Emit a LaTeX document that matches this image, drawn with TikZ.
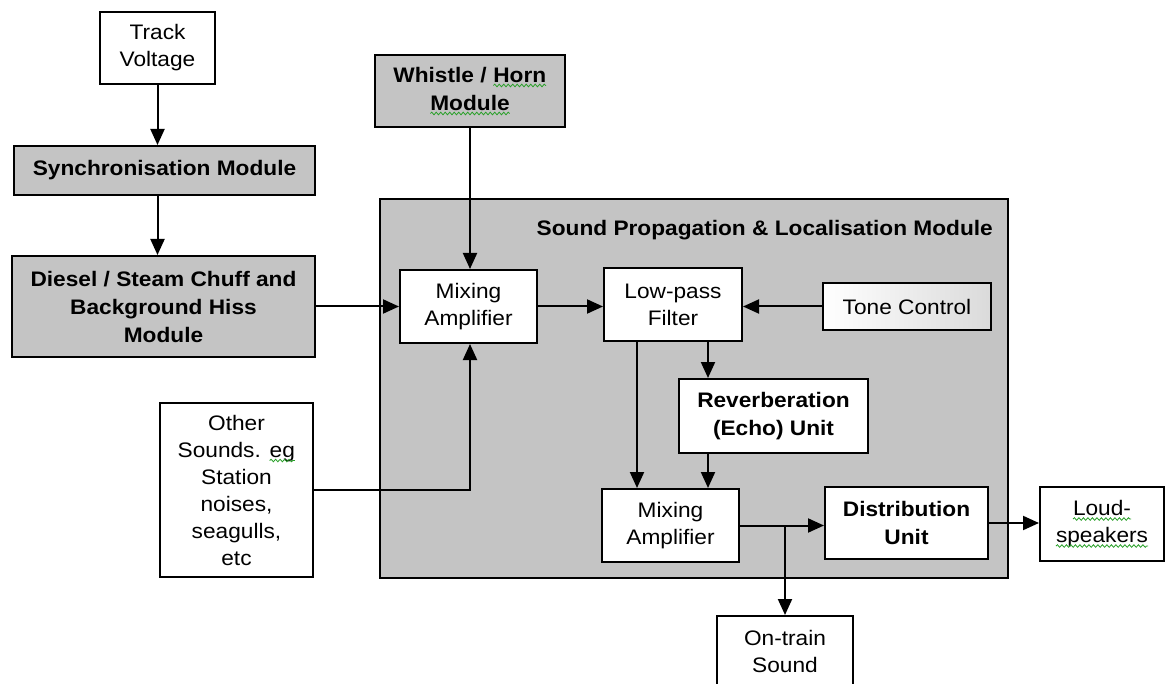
\documentclass[tikz,border=0pt]{standalone}
\usepackage{fontspec}
\setmainfont{Liberation Sans}[FakeStretch=1.08]
\usetikzlibrary{arrows.meta,calc,decorations.pathmorphing}
\definecolor{modgray}{RGB}{196,196,196}
\definecolor{tonegray}{RGB}{200,200,200}
\definecolor{sqgreen}{RGB}{40,160,40}
\pgfdeclarehorizontalshading{toneshade}{100bp}{color(0bp)=(white); color(25bp)=(white); color(100bp)=(tonegray)}
\newcommand\sq[1]{\tikz[x=1pt,y=1pt,baseline=(w.base)]{\node[inner sep=0pt,outer sep=0pt,draw=none,fill=none,minimum width=0pt,minimum height=0pt] (w) {#1};\draw[sqgreen,line width=0.8pt,decorate,decoration={snake,amplitude=1.3pt,segment length=4.5pt}] ($(w.base west)+(0,-3.5)$) -- ($(w.base east)+(0,-3.5)$);}}
\begin{document}
\begin{tikzpicture}[x=1pt,y=-1pt,
  txt/.style={font=\fontsize{21}{27}\selectfont, align=center, inner sep=0pt},
  box/.style={txt, draw=black, line width=2pt, fill=white},
  gbox/.style={box, fill=modgray, font=\fontsize{21}{28}\selectfont\bfseries},
  bbox/.style={box, font=\fontsize{21}{28}\selectfont\bfseries},
  conn/.style={line width=2pt},
  arr/.style={conn, -{Triangle[length=16pt,width=14pt]}}
]
\useasboundingbox (0,0) rectangle (1166,684);
% big module
\node[draw=black, line width=2pt, fill=modgray, minimum width=628, minimum height=379, inner sep=0pt] (big) at (694,388.5) {};
\node[txt, font=\fontsize{21}{27}\selectfont\bfseries, anchor=base east] (title) at (993,236) {Sound Propagation \& Localisation Module};
% outer boxes
\node[box, minimum width=115, minimum height=72] (track) at (157.5,48) {Track\\Voltage};
\node[gbox, minimum width=301, minimum height=49] (sync) at (164.5,170.5) {Synchronisation Module};
\node[gbox, minimum width=303, minimum height=101] (diesel) at (163.5,306.5) {Diesel / Steam Chuff and\\Background Hiss\\Module};
\node[gbox, minimum width=190, minimum height=72] (whistle) at (470,91) {Whistle / \sq{Horn}\\\sq{Module}};
\node[box, minimum width=153, minimum height=174] (other) at (236.5,490) {Other\\Sounds. \sq{eg}\\Station\\noises,\\seagulls,\\etc};
\node[box, minimum width=124, minimum height=74] (loud) at (1102,524) {\sq{Loud-}\\\sq{speakers}};
\node[box, minimum width=136, minimum height=70] (ontrain) at (785,651) {On-train\\Sound};
% inner boxes
\node[box, minimum width=137, minimum height=73] (ma1) at (468.5,306.5) {Mixing\\Amplifier};
\node[box, minimum width=138, minimum height=73] (lpf) at (673,304.5) {Low-pass\\Filter};
\node[box, shading=toneshade, minimum width=168, minimum height=47] (tone) at (907,306.5) {Tone Control};
\node[bbox, minimum width=189, minimum height=74] (reverb) at (773.5,416) {Reverberation\\(Echo) Unit};
\node[box, minimum width=137, minimum height=73] (ma2) at (670.5,525.5) {Mixing\\Amplifier};
\node[bbox, minimum width=163, minimum height=72] (dist) at (906.5,523) {Distribution\\Unit};
% connectors
\draw[arr] (track.south) -- (track.south |- sync.north);
\draw[arr] (sync.south -| track.south) -- (diesel.north -| track.south);
\draw[arr] (diesel.east) -- (ma1.west);
\draw[arr] (whistle.south) -- (whistle.south |- ma1.north);
\draw[arr] (other.east) -| (whistle.south |- ma1.south);
\draw[arr] (ma1.east) -- (ma1.east -| lpf.west);
\draw[arr] (tone.west) -- (tone.west -| lpf.east);
\coordinate (rx) at ($(lpf.south)+(35,0)$);
\coordinate (lx) at ($(lpf.south)+(-36,0)$);
\draw[arr] (rx) -- (rx |- reverb.north);
\draw[arr] (lx) -- (lx |- ma2.north);
\draw[arr] (reverb.south -| rx) -- (ma2.north -| rx);
\draw[arr] (ma2.east) -- (ma2.east -| dist.west);
\draw[arr] (ontrain.north |- ma2.east) -- (ontrain.north);
\draw[arr] (dist.east) -- (dist.east -| loud.west);
\end{tikzpicture}
\end{document}
